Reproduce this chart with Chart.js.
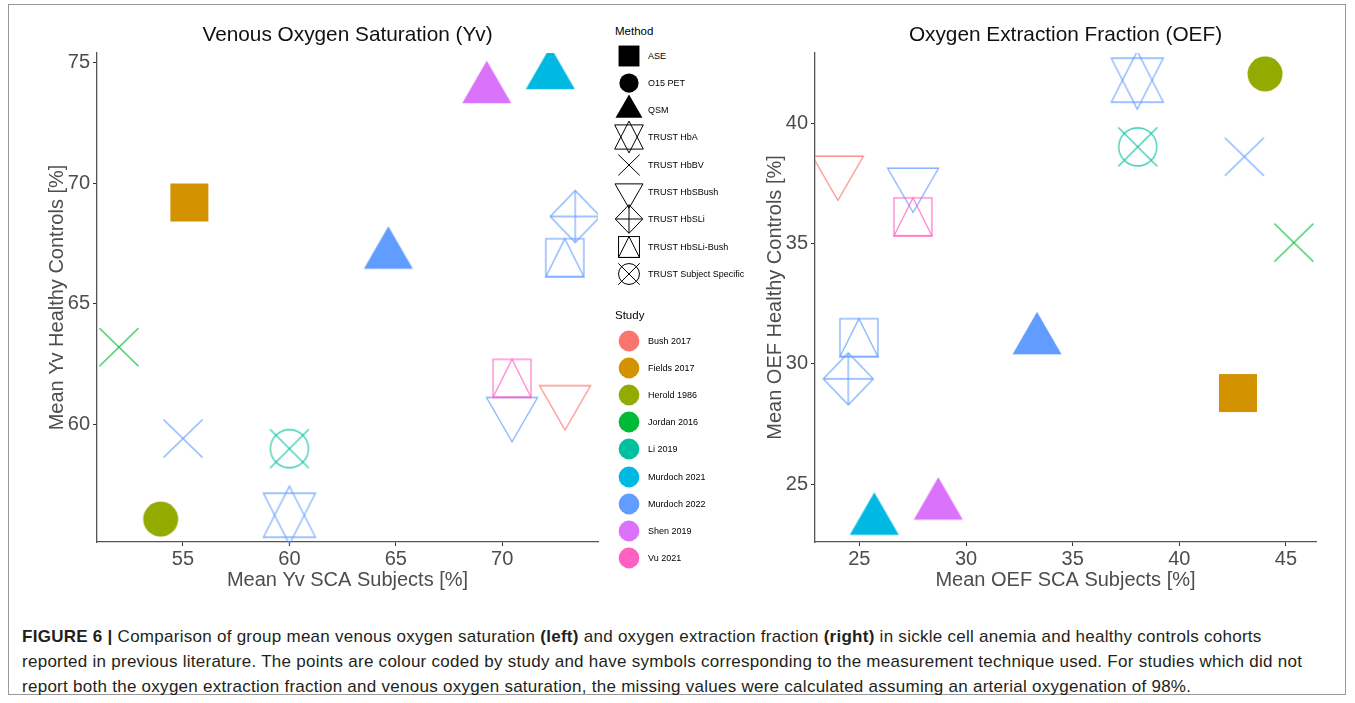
<!DOCTYPE html>
<html>
<head>
<meta charset="utf-8">
<script src="https://cdn.jsdelivr.net/npm/chart.js@4.4.0/dist/chart.umd.min.js"></script>
<style>
  body { margin: 0; background: #fff; font-family: "Liberation Sans", Arial, sans-serif; }
  #wrap { position: relative; width: 1355px; height: 703px; overflow: hidden; background: #fff; }
  #frame { position: absolute; left: 8px; top: 4px; width: 1338px; height: 691px; border: 1px solid #9a9a9a; box-sizing: border-box; }
  canvas.plot { position: absolute; top: 0; }
  #yv { left: 0; }
  #oef { left: 760px; }
  .lg-title { position: absolute; left: 615px; font-size: 11.5px; color: #000; transform: translateY(-50%); }
  .lg-label { position: absolute; left: 648px; font-size: 9px; color: #000; transform: translateY(-50%); white-space: nowrap; }
  .lg-mark { position: absolute; }
  #caption { position: absolute; left: 22px; top: 624px; font-size: 17px; letter-spacing: 0.27px; line-height: 25px; color: #231f20; white-space: nowrap; }
</style>
</head>
<body>
<div id="wrap">
  <div id="frame"></div>
  <canvas id="yv" class="plot" width="605" height="600"></canvas>
  <canvas id="oef" class="plot" width="585" height="600"></canvas>
  <div id="legend"></div>
  <div id="caption"><b>FIGURE 6 |</b> Comparison of group mean venous oxygen saturation <b>(left)</b> and oxygen extraction fraction <b>(right)</b> in sickle cell anemia and healthy controls cohorts<br>reported in previous literature. The points are colour coded by study and have symbols corresponding to the measurement technique used. For studies which did not<br>report both the oxygen extraction fraction and venous oxygen saturation, the missing values were calculated assuming an arterial oxygenation of 98%.</div>
</div>
<script>
const FONT = '"Liberation Sans", Arial, sans-serif';

// legend levels
const studies = ['Bush 2017', 'Fields 2017', 'Herold 1986', 'Jordan 2016', 'Li 2019', 'Murdoch 2021', 'Murdoch 2022', 'Shen 2019', 'Vu 2021'];
const studyColours = ['#F8766D', '#D39200', '#93AA00', '#00BA38', '#00C19F', '#00B9E3', '#619CFF', '#DB72FB', '#FF61C3'];
const methods = ['ASE', 'O15 PET', 'QSM', 'TRUST HbA', 'TRUST HbBV', 'TRUST HbSBush', 'TRUST HbSLi', 'TRUST HbSLi-Bush', 'TRUST Subject Specific'];

// one row per reported cohort (same order in both panels)
const pointStudy = ['Fields 2017', 'Herold 1986', 'Murdoch 2021', 'Murdoch 2022', 'Shen 2019', 'Murdoch 2022', 'Jordan 2016',
  'Murdoch 2022', 'Bush 2017', 'Murdoch 2022', 'Murdoch 2022', 'Murdoch 2022', 'Vu 2021', 'Li 2019'];
const pointMethod = ['ASE', 'O15 PET', 'QSM', 'QSM', 'QSM', 'TRUST HbA', 'TRUST HbBV',
  'TRUST HbBV', 'TRUST HbSBush', 'TRUST HbSBush', 'TRUST HbSLi', 'TRUST HbSLi-Bush', 'TRUST HbSLi-Bush', 'TRUST Subject Specific'];

// Yv panel
const yvSca = [55.3, 53.95, 72.26, 64.65, 69.27, 60.0, 51.99, 55.0, 72.95, 70.46, 73.43, 72.94, 70.46, 60.0];
const yvHc  = [69.2, 56.07, 74.49, 67.04, 73.91, 56.23, 63.2, 59.41, 60.99, 60.5, 68.62, 66.91, 61.91, 58.99];
const yvXTicks = [55, 60, 65, 70];
const yvYTicks = [60, 65, 70, 75];

// OEF panel
const oefSca = [42.75, 44.02, 25.7, 33.33, 28.7, 38.03, 45.37, 43.05, 23.99, 27.52, 24.48, 24.98, 27.51, 38.05];
const oefHc  = [28.79, 42.05, 23.49, 30.99, 24.12, 41.79, 35.04, 38.61, 38.02, 37.52, 29.38, 31.09, 36.11, 39.02];
const oefXTicks = [25, 30, 35, 40, 45];
const oefYTicks = [25, 30, 35, 40];

// R-like point symbols drawn into small canvases, used as Chart.js pointStyle
const markerCache = {};
function poly(c, pts) {
  c.beginPath();
  pts.forEach(([x, y], i) => i ? c.lineTo(x, y) : c.moveTo(x, y));
  c.closePath();
}
function seg(c, x1, y1, x2, y2) {
  c.beginPath(); c.moveTo(x1, y1); c.lineTo(x2, y2); c.stroke();
}
function markerImage(method, colour, scale, lw, alpha) {
  const key = [method, colour, scale, lw, alpha].join('|');
  if (markerCache[key]) return markerCache[key];
  const size = 2 * Math.ceil(32 * scale) + 2;
  const cv = document.createElement('canvas');
  cv.width = cv.height = size;
  const c = cv.getContext('2d');
  c.translate(size / 2, size / 2);
  c.scale(scale, scale);
  c.fillStyle = colour;
  c.strokeStyle = colour;
  c.lineWidth = lw / scale;
  c.lineJoin = 'miter';
  if (method.startsWith('TRUST')) c.globalAlpha = alpha;
  switch (method) {
    case 'ASE': c.fillRect(-19, -19, 38, 38); break;
    case 'O15 PET': c.beginPath(); c.arc(0, 0, 17.5, 0, Math.PI * 2); c.fill(); break;
    case 'QSM': poly(c, [[0, -28.3], [24.5, 14.15], [-24.5, 14.15]]); c.fill(); break;
    case 'TRUST HbA':
      poly(c, [[0, -29], [26, 22], [-26, 22]]); c.stroke();
      poly(c, [[0, 29], [26, -22], [-26, -22]]); c.stroke();
      break;
    case 'TRUST HbBV': seg(c, -19.5, -19, 19.5, 19); seg(c, -19.5, 19, 19.5, -19); break;
    case 'TRUST HbSBush': poly(c, [[0, 29.5], [25.5, -14.75], [-25.5, -14.75]]); c.stroke(); break;
    case 'TRUST HbSLi':
      poly(c, [[0, -26], [25, 0], [0, 26], [-25, 0]]); c.stroke();
      seg(c, 0, -26, 0, 26); seg(c, -25, 0, 25, 0);
      break;
    case 'TRUST HbSLi-Bush':
      c.strokeRect(-19, -19, 38, 38);
      poly(c, [[0, -19], [19, 19], [-19, 19]]); c.stroke();
      break;
    case 'TRUST Subject Specific':
      c.beginPath(); c.arc(0, 0, 19, 0, Math.PI * 2); c.stroke();
      seg(c, -19.5, -19.5, 19.5, 19.5); seg(c, -19.5, 19.5, 19.5, -19.5);
      break;
  }
  markerCache[key] = cv;
  return cv;
}

function colourOf(study) { return studyColours[studies.indexOf(study)]; }

function makePanel(id, cfg) {
  const data = cfg.sca.map((x, i) => ({ x, y: cfg.hc[i] }));
  return new Chart(document.getElementById(id), {
    type: 'scatter',
    data: {
      datasets: [{
        data,
        pointStyle: ctx => markerImage(pointMethod[ctx.dataIndex], colourOf(pointStudy[ctx.dataIndex]), 1, 1.3, 0.8),
        pointRadius: 20,
        clip: { left: 0, top: 0, right: 0, bottom: 4 }
      }]
    },
    options: {
      responsive: false,
      animation: false,
      events: [],
      // big pointRadius would otherwise add auto padding around the plot
      layout: { autoPadding: false, padding: { left: 0, right: cfg.padRight, top: 0, bottom: 0 } },
      plugins: {
        legend: { display: false },
        tooltip: { enabled: false },
        title: {
          display: true, text: cfg.title, fullSize: false, color: '#111',
          font: { family: FONT, size: 20.8, weight: 'normal' },
          padding: { top: 23, bottom: 5 }
        }
      },
      scales: {
        x: {
          type: 'linear', position: 'bottom', bounds: 'data', min: cfg.xMin, max: cfg.xMax,
          afterFit: s => { s.height = 58; s.paddingLeft = 0; s.paddingRight = 0; },
          afterBuildTicks: s => { s.ticks = cfg.xTicks.map(v => ({ value: v })); },
          grid: { display: true, drawOnChartArea: false, drawTicks: true, tickLength: 4, color: '#333' },
          border: { display: true, color: '#555', width: 1.3 },
          ticks: { color: '#4d4d4d', font: { family: FONT, size: 20 }, padding: 1, maxRotation: 0, autoSkip: false },
          title: { display: true, text: cfg.xTitle, color: '#4d4d4d', font: { family: FONT, size: 20 }, padding: { top: 0, bottom: 8 } }
        },
        y: {
          type: 'linear', position: 'left', bounds: 'data', min: cfg.yMin, max: cfg.yMax,
          afterFit: s => { s.width = cfg.yWidth; s.paddingTop = 0; s.paddingBottom = 0; },
          afterBuildTicks: s => { s.ticks = cfg.yTicks.map(v => ({ value: v })); },
          grid: { display: true, drawOnChartArea: false, drawTicks: true, tickLength: 4, color: '#333' },
          border: { display: true, color: '#555', width: 1.3 },
          ticks: { color: '#4d4d4d', font: { family: FONT, size: 20 }, padding: 3, autoSkip: false },
          title: { display: true, text: cfg.yTitle, color: '#4d4d4d', font: { family: FONT, size: 20 }, padding: { top: cfg.yTitlePad, bottom: 0 } }
        }
      }
    }
  });
}

makePanel('yv', {
  sca: yvSca, hc: yvHc, title: 'Venous Oxygen Saturation (Yv)',
  xTitle: 'Mean Yv SCA Subjects [%]', yTitle: 'Mean Yv Healthy Controls [%]',
  xMin: 50.96, xMax: 74.5, yMin: 55.12, yMax: 75.4,
  xTicks: yvXTicks, yTicks: yvYTicks, yWidth: 97, yTitlePad: 45, padRight: 7
});
makePanel('oef', {
  sca: oefSca, hc: oefHc, title: 'Oxygen Extraction Fraction (OEF)',
  xTitle: 'Mean OEF SCA Subjects [%]', yTitle: 'Mean OEF Healthy Controls [%]',
  xMin: 22.92, xMax: 46.41, yMin: 22.6, yMax: 42.92,
  xTicks: oefXTicks, yTicks: oefYTicks, yWidth: 55, yTitlePad: 3, padRight: 29
});

// shared legend between the panels
const legend = document.getElementById('legend');
function addText(cls, text, y) {
  const d = document.createElement('div');
  d.className = cls; d.textContent = text; d.style.top = y + 'px';
  legend.appendChild(d);
}
function addMark(cv, y) {
  cv.className = 'lg-mark';
  cv.style.left = (629 - cv.width / 2) + 'px';
  cv.style.top = (y - cv.height / 2) + 'px';
  legend.appendChild(cv);
}
addText('lg-title', 'Method', 31);
methods.forEach((m, i) => {
  const y = 55.5 + i * 27.3;
  addMark(markerImage(m, '#000', 0.55, 1, 1), y);
  addText('lg-label', m, y);
});
addText('lg-title', 'Study', 315);
studies.forEach((s, i) => {
  const y = 341 + i * 27.1;
  const cv = document.createElement('canvas');
  cv.width = cv.height = 24;
  const c = cv.getContext('2d');
  c.fillStyle = studyColours[i];
  c.beginPath(); c.arc(12, 12, 10.4, 0, Math.PI * 2); c.fill();
  addMark(cv, y);
  addText('lg-label', s, y);
});
</script>
</body>
</html>
